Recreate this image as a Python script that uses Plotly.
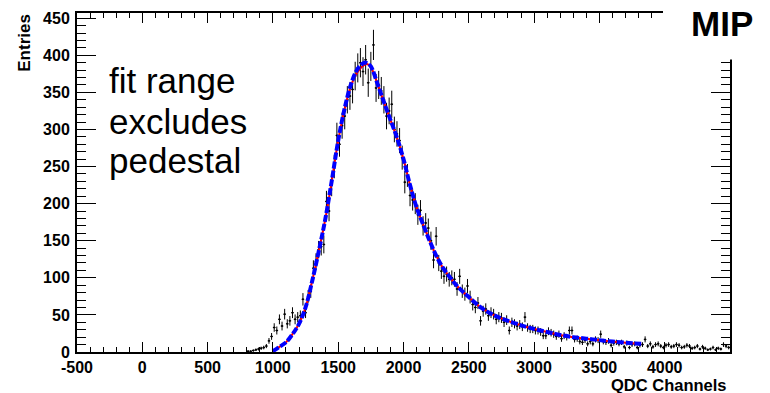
import plotly.graph_objects as go
import numpy as np

# ---- histogram data (20-channel bins) ----
bin_first_center = 810
bin_width = 20
counts = [
    1, 1, 2, 3, 4, 5, 6, 8, 15, 21,
    33, 29, 44, 35, 51, 38, 42, 53, 44, 47,
    49, 71, 53, 75, 82, 113, 122, 138, 142, 145,
    203, 190, 225, 250, 292, 280, 305, 318, 340, 345,
    354, 372, 383, 390, 378, 394, 363, 385, 414, 356,
    360, 352, 340, 318, 325, 334, 300, 294, 285, 262,
    229, 238, 211, 205, 200, 185, 191, 170, 174, 167,
    150, 124, 156, 120, 109, 102, 105, 98, 100, 98,
    85, 102, 82, 78, 89, 74, 64, 60, 66, 42,
    55, 58, 49, 53, 51, 44, 47, 46, 40, 43,
    29, 40, 38, 35, 37, 34, 47, 33, 31, 31,
    29, 29, 27, 22, 22, 28, 26, 24, 21, 24,
    18, 22, 20, 29, 29, 17, 18, 14, 13, 16,
    11, 14, 11, 17, 16, 24, 14, 13, 15, 9,
    12, 13, 11, 13, 7, 12, 6, 10, 11, 6,
    9, 10, 17, 8, 11, 7, 10, 11, 8, 6,
    9, 10, 7, 8, 10, 9, 6, 7, 9, 8,
    5, 6, 8, 4, 7, 5, 3, 4, 6, 3,
    5, 4, 10, 8, 6,
]
centers = [bin_first_center + bin_width * i for i in range(len(counts))]
errors = [np.sqrt(c) for c in counts]

# ---- fit curves ----
fit_x = [1000, 1025, 1050, 1100, 1150, 1200, 1250, 1300, 1350, 1400, 1450, 1500,
         1550, 1600, 1650, 1700, 1725, 1750, 1800, 1850, 1900, 1950, 2000, 2050,
         2100, 2150, 2200, 2250, 2300, 2350, 2400, 2450, 2500, 2600, 2700, 2800,
         2900, 3000, 3100, 3200, 3300, 3400, 3500, 3600, 3700, 3820]
fit_red = [1, 4, 7, 13, 24, 38, 60, 95, 135, 178, 230, 285,
           328, 360, 378, 387, 388, 384, 362, 337, 313, 289, 260, 225,
           195, 172, 150, 130, 114, 102, 91, 82, 74, 59, 49, 42,
           36, 31, 27, 23, 20, 18, 16, 14, 12.5, 11]
fit_blue = [1, 4, 7, 13, 24, 38, 60, 95, 135, 178, 230, 285,
            329, 362, 382, 390, 389, 385, 362, 337, 313, 289, 260, 225,
            195, 172, 150, 130, 114, 102, 91, 82, 74, 59, 49, 42,
            36, 31, 27, 23, 20, 18, 16, 14, 12.5, 11]

x_tickvals = [-500, 0, 500, 1000, 1500, 2000, 2500, 3000, 3500, 4000]
y_tickvals = [0, 50, 100, 150, 200, 250, 300, 350, 400, 450]
x_range = [-500, 4500]
y_range = [0, 457]

W, H = 770, 393
L, R, T, B = 77, 40, 10, 41
pw, ph = W - L - R, H - T - B


def px(x):
    return (x - L) / pw


def py(y):
    return (H - B - y) / ph


fig = go.Figure()
fig.add_trace(go.Scatter(
    x=centers, y=counts, mode="markers",
    marker=dict(size=2, color="black"),
    error_y=dict(type="data", array=errors, thickness=1, width=0, color="black"),
    error_x=dict(type="constant", value=bin_width / 2, thickness=1, width=0, color="black"),
    showlegend=False, hoverinfo="skip",
))
fig.add_trace(go.Scatter(
    x=fit_x, y=fit_red, mode="lines", line=dict(color="red", width=2, shape="spline"),
    showlegend=False,
))
fig.add_trace(go.Scatter(
    x=fit_x, y=fit_blue, mode="lines",
    line=dict(color="blue", width=4, dash="7px,2px", shape="spline"),
    showlegend=False,
))

tickfont = dict(family="Liberation Sans", size=16, color="black", weight="bold")
fig.update_xaxes(
    range=x_range, tickmode="array", tickvals=x_tickvals,
    ticktext=[str(v) for v in x_tickvals],
    ticks="inside", ticklen=10, tickwidth=1, tickcolor="black",
    minor=dict(tickmode="linear", dtick=100, tick0=-500, ticks="inside", ticklen=5,
               tickcolor="black", tickwidth=1, showgrid=False),
    showline=True, linecolor="black", linewidth=2, mirror="allticks",
    showgrid=False, zeroline=False, tickfont=tickfont, ticklabelstandoff=0,
)
fig.update_yaxes(
    range=y_range, tickmode="array", tickvals=y_tickvals,
    ticktext=[str(v) for v in y_tickvals],
    ticks="inside", ticklen=19, tickwidth=1, tickcolor="black",
    minor=dict(tickmode="linear", dtick=10, tick0=0, ticks="inside", ticklen=9,
               tickcolor="black", tickwidth=1, showgrid=False),
    showline=True, linecolor="black", linewidth=2, mirror="allticks",
    showgrid=False, zeroline=False, tickfont=tickfont, ticklabelstandoff=2,
)

# white label box around "MIP" that covers the frame corner
fig.add_shape(type="rect", xref="paper", yref="paper",
              x0=px(663), x1=px(775), y0=py(57), y1=py(-5),
              fillcolor="white", line=dict(width=0), layer="above")

ann = []
ann.append(dict(text="Entries", x=px(25), y=py(40), xref="paper", yref="paper",
                textangle=-90, showarrow=False, xanchor="center", yanchor="middle",
                font=dict(family="Liberation Sans", size=17, color="black", weight="bold")))
ann.append(dict(text="QDC Channels", x=px(729), y=py(385), xref="paper", yref="paper",
                showarrow=False, xanchor="right", yanchor="middle",
                font=dict(family="Liberation Sans", size=16.5, color="black", weight="bold")))
ann.append(dict(text="MIP", x=px(722), y=py(0), xref="paper", yref="paper",
                showarrow=False, xanchor="center", yanchor="top", borderpad=0,
                font=dict(family="Liberation Sans", size=35, color="black", weight="bold")))
for txt, yc in [("fit range", 78), ("excludes", 119), ("pedestal", 159)]:
    ann.append(dict(text=txt, x=px(107), y=py(yc), xref="paper", yref="paper",
                    showarrow=False, xanchor="left", yanchor="middle",
                    font=dict(family="Liberation Sans", size=35, color="black")))

fig.update_layout(
    width=W, height=H, autosize=False,
    margin=dict(l=L, r=R, t=T, b=B),
    plot_bgcolor="white", paper_bgcolor="white",
    annotations=ann,
)
fig.write_html("out.html")
